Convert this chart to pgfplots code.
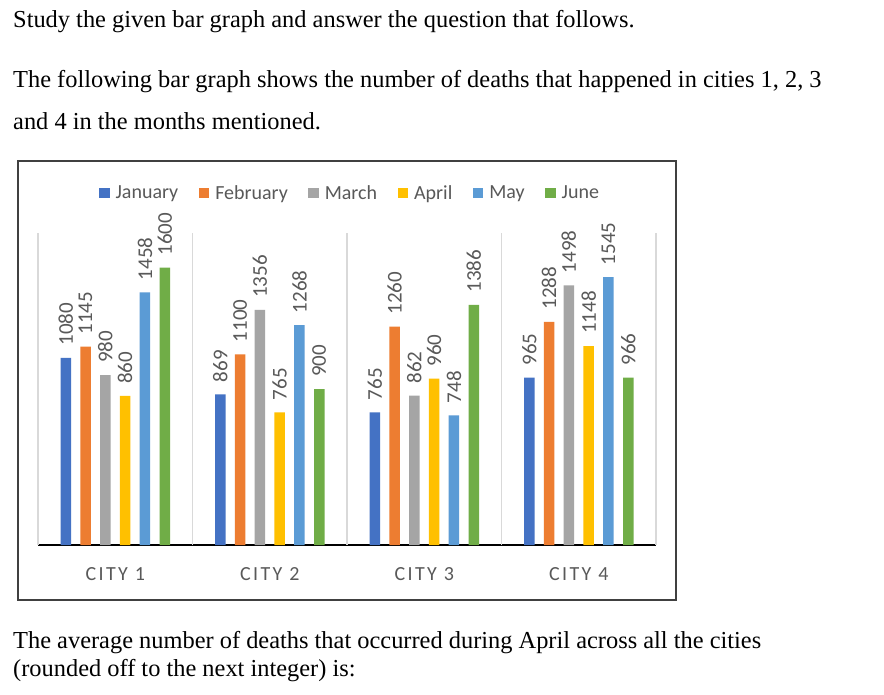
\documentclass[border=0pt]{standalone}
\usepackage{fontspec}
\setmainfont{Liberation Serif}
\newfontfamily\calibri{Carlito}
\newfontfamily\calibrisp{Carlito}[LetterSpace=12]
\usepackage{pgfplots}
\pgfplotsset{compat=1.18}

\definecolor{cjan}{HTML}{4472C4}
\definecolor{cfeb}{HTML}{ED7D31}
\definecolor{cmar}{HTML}{A5A5A5}
\definecolor{capr}{HTML}{FFC000}
\definecolor{cmay}{HTML}{5B9BD5}
\definecolor{cjun}{HTML}{70AD47}
\definecolor{labelgray}{HTML}{595959}
\definecolor{gridgray}{HTML}{D9D9D9}

\pgfplotsset{
  sq/.style={fill=#1, draw=none,
    legend image code/.code={\fill[fill=#1] (0pt,-5pt) rectangle (10.5pt,5pt);}},
}

\begin{document}
\begin{tikzpicture}[x=1pt,y=1pt]
\path[use as bounding box, fill=white] (0,0) rectangle (884,-694);

% question text
\node[anchor=base west, inner sep=0] at (13,-27)
  {\fontsize{24.4}{28}\selectfont Study the given bar graph and answer the question that follows.};
\node[anchor=base west, inner sep=0] at (13,-87)
  {\fontsize{24.4}{28}\selectfont The following bar graph shows the number of deaths that happened in cities 1, 2, 3};
\node[anchor=base west, inner sep=0] at (13,-129)
  {\fontsize{24.4}{28}\selectfont and 4 in the months mentioned.};
\node[anchor=base west, inner sep=0] at (13,-648)
  {\fontsize{24.4}{28}\selectfont The average number of deaths that occurred during April across all the cities};
\node[anchor=base west, inner sep=0] at (13,-676)
  {\fontsize{24.4}{28}\selectfont (rounded off to the next integer) is:};

% chart frame
\draw[line width=1.8pt, black!75] (18,-161) rectangle (676,-600);

\begin{axis}[
  at={(38pt,-545pt)}, anchor=south west,
  scale only axis, width=618pt, height=312pt,
  xmin=-0.5, xmax=3.5, ymin=0, ymax=1800,
  enlargelimits=false, clip=false,
  ybar=9.3pt, bar width=10.5pt,
  axis x line*=bottom, axis y line=none,
  x axis line style={line width=2pt, black},
  ytick=\empty,
  xtick={0,1,2,3},
  xticklabels={CITY 1,CITY 2,CITY 3,CITY 4},
  major tick length=0pt,
  xticklabel style={font=\calibrisp\fontsize{20}{20}\selectfont, text=labelgray, anchor=base, yshift=-35pt},
  extra x ticks={-0.5,0.5,1.5,2.5,3.5},
  extra x tick labels={},
  extra x tick style={grid=major, major grid style={draw=gridgray, line width=1.2pt}},
  /pgf/number format/.cd, 1000 sep={}, assume math mode=true, /pgfplots/.cd,
  nodes near coords,
  every node near coord/.append style={rotate=90, anchor=west, inner xsep=12pt, inner ysep=0pt,
    font=\calibri\fontsize{21}{21}\selectfont, text=labelgray},
  legend columns=6,
  legend cell align=left,
  legend style={at={(0.505,1.128)}, anchor=center, draw=none, fill=none,
    font=\calibri\fontsize{20}{20}\selectfont, text=labelgray,
    /tikz/every odd column/.append style={column sep=4pt},
    /tikz/every even column/.append style={column sep=18.5pt},
    inner sep=0pt},
]
\addplot[sq=cjan] coordinates {(0,1080) (1,869) (2,765) (3,965)};
\addplot[sq=cfeb] coordinates {(0,1145) (1,1100) (2,1260) (3,1288)};
\addplot[sq=cmar] coordinates {(0,980) (1,1356) (2,862) (3,1498)};
\addplot[sq=capr] coordinates {(0,860) (1,765) (2,960) (3,1148)};
\addplot[sq=cmay] coordinates {(0,1458) (1,1268) (2,748) (3,1545)};
\addplot[sq=cjun] coordinates {(0,1600) (1,900) (2,1386) (3,966)};
\legend{January,February,March,April,May,June}
\end{axis}
\end{tikzpicture}
\end{document}
